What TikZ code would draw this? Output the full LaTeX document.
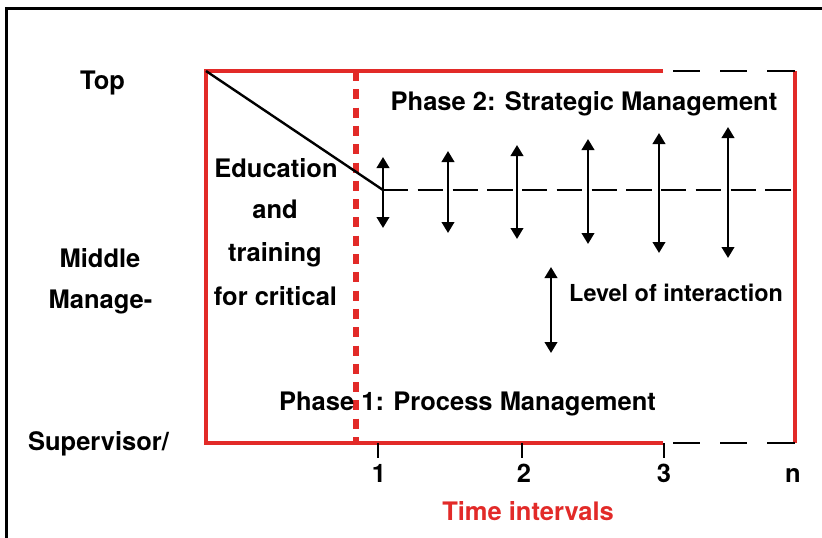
\documentclass[tikz,border=0pt]{standalone}
\usepackage{fontspec}
\setmainfont{TeX Gyre Heros}
\usetikzlibrary{arrows.meta}
\definecolor{chartred}{RGB}{226,42,40}
\begin{document}
\begin{tikzpicture}[x=1pt,y=-1pt,
  lbl/.style={font=\fontsize{25.5}{30}\selectfont\bfseries, inner sep=0pt, anchor=base},
  smalllbl/.style={font=\fontsize{23.4}{28}\selectfont\bfseries, inner sep=0pt, anchor=base},
  redline/.style={draw=chartred, line width=3.2pt},
  blackdash/.style={draw=black, line width=2.6pt},
  level/.style={line width=2.3pt, {Triangle[width=12.5pt,length=11pt]}-{Triangle[width=12.5pt,length=11pt]}},
  tick/.style={draw=black, line width=2.2pt}]
\useasboundingbox (0,0) rectangle (822,538);
\fill[white] (0,0) rectangle (822,538);

% outer frame (only top and left edges fall inside the page)
\draw[line width=3pt] (6.5,560) -- (6.5,8) -- (840,8);

% corner points of the chart area
\coordinate (tl) at (206,71);
\coordinate (bl) at (206,443);
\coordinate (tm) at (663,71);
\coordinate (bm) at (663,443);
\coordinate (tr) at (795,71);
\coordinate (br) at (795,443);

% chart frame
\draw[redline, line join=miter] (tm) -- (tl) -- (bl) -- (bm);
\draw[redline] (tr) -- (br);
\draw[blackdash, line width=2.5pt, dash pattern=on 0pt off 10pt on 27pt off 20pt on 27pt off 20pt on 40pt] (tm) -- (tr);
\draw[blackdash, line width=2.5pt, dash pattern=on 0pt off 10pt on 27pt off 20pt on 27pt off 20pt on 40pt] (bm) -- (br);

% phase boundary
\coordinate (pt) at (356,71);
\coordinate (pb) at (356,443);
\draw[draw=chartred, line width=5.5pt, dash pattern=on 10pt off 8.3pt] (pt) -- (pb);

% management level path
\coordinate (knee) at (383,190);
\draw[line width=2.4pt] (tl) -- (knee);
\draw[blackdash, dash pattern=on 25pt off 9.5pt on 25.5pt off 9.5pt] (knee) -- (br |- knee);

% interaction arrows growing over time
\foreach \i/\x/\t/\b in {1/383/157/228, 2/448/151/233, 3/517/145/239, 4/588/139/244, 5/659/133/253, 6/728/127/258}{
  \coordinate (u\i) at (\x,\t);
  \coordinate (d\i) at (\x,\b);
  \draw[level] (u\i) -- (d\i);
}

% legend arrow
\coordinate (lu) at (551,267);
\coordinate (ld) at (551,353);
\draw[level] (lu) -- (ld);
\node[smalllbl, anchor=base west] (legend) at (569,301.5) {Level of interaction};

% level labels
\node[lbl] (top) at (102.5,89) {Top};
\node[lbl] (mid1) at (100,267) {Middle};
\node[lbl] (mid2) at (100.5,308) {Manage-};
\node[lbl] (sup) at (98.5,450.5) {Supervisor/};

% education block
\node[lbl] (ed1) at (276,177) {Education};
\node[lbl] (ed2) at (275,218.5) {and};
\node[lbl] (ed3) at (275,261) {training};
\node[lbl] (ed4) at (275.5,305) {for critical};

% phase titles
\node[lbl] (ph2) at (584,110) {Phase 2: Strategic Management};
\node[lbl] (ph1) at (467.5,410) {Phase 1: Process Management};

% time axis
\coordinate (t1) at (378,443);
\coordinate (t2) at (522,443);
\coordinate (t3) at (664,443);
\draw[tick] (t1) -- ++(0,15);
\draw[tick] (t2) -- ++(0,15);
\draw[tick] (t3) -- ++(0,15);
\node[lbl] (n1) at (379,482.5) {1};
\node[lbl] (n2) at (524,482.5) {2};
\node[lbl] (n3) at (664,482.5) {3};
\node[lbl] (nn) at (793,482.5) {n};
\node[lbl, text=chartred] (axis) at (528,520) {Time intervals};
\end{tikzpicture}
\end{document}
